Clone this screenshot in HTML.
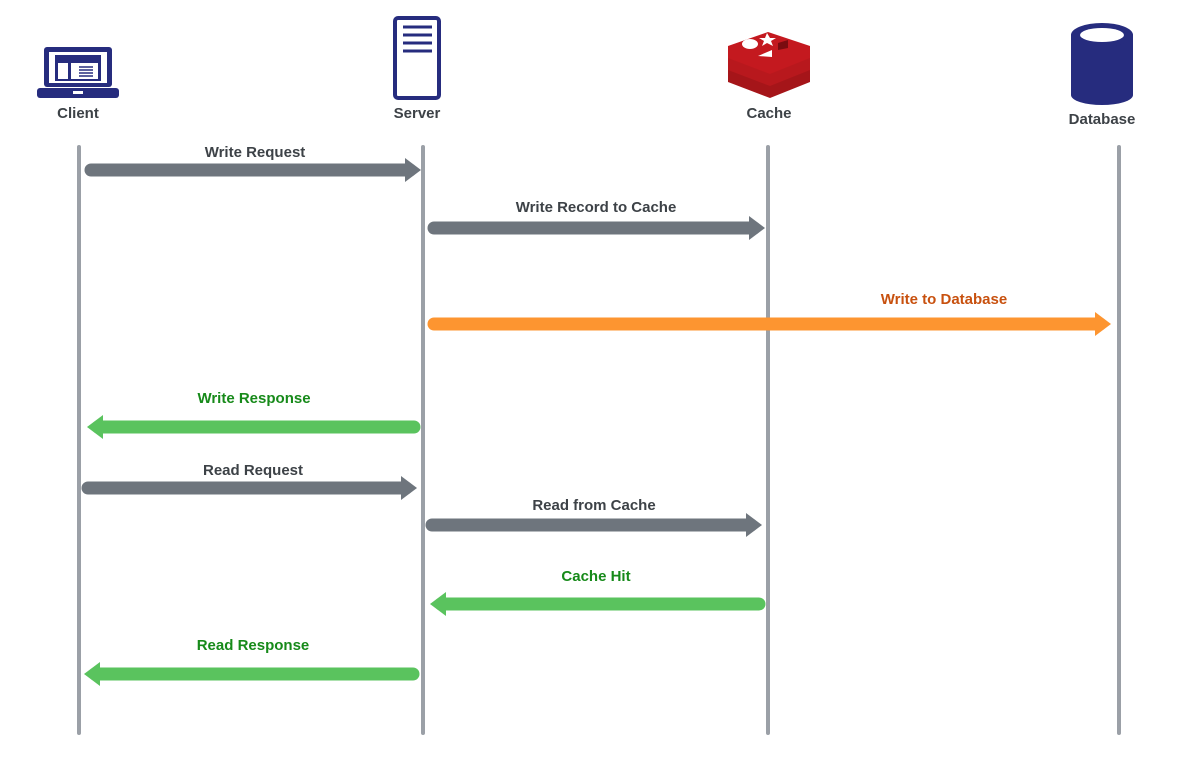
<!DOCTYPE html>
<html><head><meta charset="utf-8"><style>
html,body{margin:0;padding:0;background:#fff;}
svg{display:block;}
text{font-family:"Liberation Sans",Arial,sans-serif;font-weight:bold;font-size:15px;text-anchor:middle;}
</style></head><body>
<svg width="1177" height="761" viewBox="0 0 1177 761">
<defs>
<marker id="ah" viewBox="0 0 10 10" refX="0" refY="5" markerWidth="1.6" markerHeight="2" orient="auto"></marker>
</defs>
<!-- lifelines -->
<g stroke="#9ba0a7" stroke-width="4" stroke-linecap="round">
<line x1="79" y1="147" x2="79" y2="733"/>
<line x1="423" y1="147" x2="423" y2="733"/>
<line x1="768" y1="147" x2="768" y2="733"/>
<line x1="1119" y1="147" x2="1119" y2="733"/>
</g>
<!-- icons -->
<!-- laptop -->
<g fill="#262c7e">
<rect x="44" y="47" width="68" height="40" rx="3"/>
<rect x="37" y="88" width="82" height="10" rx="3"/>
</g>
<rect x="49" y="52" width="58" height="31" fill="#fff"/>
<rect x="55" y="55" width="46" height="26" fill="#262c7e"/>
<rect x="58" y="63" width="10" height="16" fill="#fff"/>
<rect x="71" y="63" width="27" height="16" fill="#fff"/>
<g stroke="#262c7e" stroke-width="1.5"><line x1="79" y1="67" x2="93" y2="67"/><line x1="79" y1="70" x2="93" y2="70"/><line x1="79" y1="73" x2="93" y2="73"/><line x1="79" y1="76" x2="93" y2="76"/></g>
<rect x="73" y="91" width="10" height="3" fill="#fff"/>
<!-- server -->
<rect x="395" y="18" width="44" height="80" rx="3" fill="none" stroke="#262c7e" stroke-width="4"/>
<g stroke="#262c7e" stroke-width="3"><line x1="403" y1="27" x2="432" y2="27"/><line x1="403" y1="35" x2="432" y2="35"/><line x1="403" y1="43" x2="432" y2="43"/><line x1="403" y1="51" x2="432" y2="51"/></g>
<!-- cache -->
<g fill="#c4191f">
<path d="M728 70 L768 56 L810 70 L810 82 L770 98 L728 82 Z" fill="#a51519"/>
<path d="M728 58 L768 44 L810 58 L810 70 L770 86 L728 70 Z" fill="#b8181d"/>
<path d="M728 46 L768 32 L810 46 L810 58 L770 74 L728 58 Z"/>
</g>
<ellipse cx="750" cy="44" rx="8" ry="5" fill="#fff"/>
<polygon points="767,33 770,38 776,38 771,41 773,46 767,43 762,46 764,41 759,38 765,38" fill="#fff"/>
<polygon points="758,56 772,50 772,57" fill="#fff"/>
<polygon points="778,43 788,40 788,48 778,50" fill="#7a0c10"/>
<!-- database -->
<path d="M1071 35 L1071 95 A31 10 0 0 0 1133 95 L1133 35 Z" fill="#262c7e"/>
<ellipse cx="1102" cy="35" rx="31" ry="12" fill="#262c7e"/>
<ellipse cx="1102" cy="35" rx="22" ry="7" fill="#fff"/>
<!-- node labels -->
<g fill="#3d4247">
<text x="78" y="118">Client</text>
<text x="417" y="118">Server</text>
<text x="769" y="118">Cache</text>
<text x="1102" y="124">Database</text>
</g>
<!-- arrows -->
<g stroke-width="13" stroke-linecap="round">
<line x1="91" y1="170" x2="410" y2="170" stroke="#6e757d"/>
<line x1="434" y1="228" x2="754" y2="228" stroke="#6e757d"/>
<line x1="434" y1="324" x2="1100" y2="324" stroke="#fd9530"/>
<line x1="98" y1="427" x2="414" y2="427" stroke="#5ac35e"/>
<line x1="88" y1="488" x2="406" y2="488" stroke="#6e757d"/>
<line x1="432" y1="525" x2="751" y2="525" stroke="#6e757d"/>
<line x1="441" y1="604" x2="759" y2="604" stroke="#5ac35e"/>
<line x1="95" y1="674" x2="413" y2="674" stroke="#5ac35e"/>
</g>
<g>
<polygon points="405,158 421,170 405,182" fill="#6e757d"/>
<polygon points="749,216 765,228 749,240" fill="#6e757d"/>
<polygon points="1095,312 1111,324 1095,336" fill="#fd9530"/>
<polygon points="103,415 87,427 103,439" fill="#5ac35e"/>
<polygon points="401,476 417,488 401,500" fill="#6e757d"/>
<polygon points="746,513 762,525 746,537" fill="#6e757d"/>
<polygon points="446,592 430,604 446,616" fill="#5ac35e"/>
<polygon points="100,662 84,674 100,686" fill="#5ac35e"/>
</g>
<!-- labels -->
<text x="255" y="157" fill="#3d4247">Write Request</text>
<text x="596" y="212" fill="#3d4247">Write Record to Cache</text>
<text x="944" y="304" fill="#c8510f">Write to Database</text>
<text x="254" y="403" fill="#178a1a">Write Response</text>
<text x="253" y="475" fill="#3d4247">Read Request</text>
<text x="594" y="510" fill="#3d4247">Read from Cache</text>
<text x="596" y="581" fill="#178a1a">Cache Hit</text>
<text x="253" y="650" fill="#178a1a">Read Response</text>
</svg>
</body></html>
